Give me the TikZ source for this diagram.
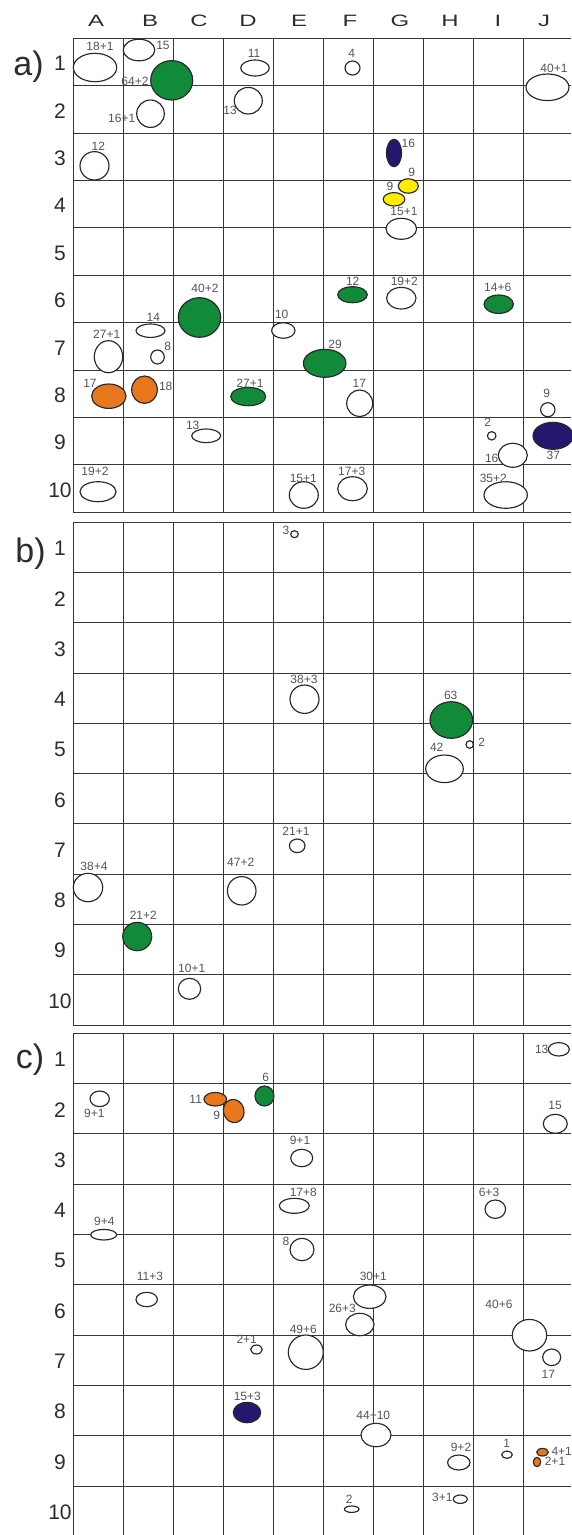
\documentclass[tikz,border=0pt]{standalone}
\usepackage{fontspec}
\setmainfont{Liberation Sans}
\newfontfamily\widefont[FakeStretch=1.45]{Liberation Sans}
\usetikzlibrary{shapes.geometric}
\definecolor{gfill}{RGB}{17,138,58}
\definecolor{ofill}{RGB}{232,120,30}
\definecolor{bfill}{RGB}{36,24,110}
\definecolor{yfill}{RGB}{255,238,0}
\definecolor{outl}{RGB}{40,40,40}
\definecolor{gridc}{RGB}{55,55,55}
\definecolor{lblc}{RGB}{85,85,85}
\definecolor{headc}{RGB}{45,45,45}
\newcommand\myblob[6]{\node[blob, fill=#6, minimum width=2*#4pt, minimum height=2*#5pt] (#1) at (#2,#3) {};}
\newcommand\mylbl[4]{\node[lbl] (#1) at (#2,#3) {#4};}
\begin{document}
\begin{tikzpicture}[x=1pt,y=-1pt,
  blob/.style={ellipse, draw=outl, line width=1.15pt, inner sep=0pt, outer sep=0pt},
  lbl/.style={font=\fontsize{12}{12}\selectfont, text=lblc, inner sep=0pt},
  colhead/.style={font=\widefont\fontsize{16.5}{16.5}\selectfont, text=headc, inner sep=0pt},
  rowhead/.style={font=\fontsize{21}{21}\selectfont, text=headc, inner sep=0pt},
  panel/.style={font=\fontsize{34}{34}\selectfont, text=headc, inner sep=0pt},
  gridline/.style={draw=gridc, line width=1pt}]
\useasboundingbox[fill=white] (0,0) rectangle (571,1535);
% grids
\foreach \i in {0,...,9} {
  \draw[gridline] (73+50*\i,38.3) -- (73+50*\i,512.3);
  \draw[gridline] (73+50*\i,522.3) -- (73+50*\i,1025);
  \draw[gridline] (73+50*\i,1033.3) -- (73+50*\i,1536);
}
\foreach \j in {0,...,10} {
  \draw[gridline] (73,38.3+47.4*\j) -- (571,38.3+47.4*\j);
  \draw[gridline] (73,522.3+50.27*\j) -- (571,522.3+50.27*\j);
  \draw[gridline] (73,1033.3+50.3*\j) -- (571,1033.3+50.3*\j);
}
% column letters
\foreach \c/\x in {A/96,B/150,C/199,D/248,E/299,F/350,G/400,H/450,I/498,J/544}
  \node[colhead] (col\c) at (\x,20.5) {\c};
% row numbers
\foreach \j in {1,...,10} {
  \node[rowhead] (ra\j) at (60,38.3+47.4*\j-23.7+1.5) {\j};
  \node[rowhead] (rb\j) at (60,522.3+50.27*\j-25.1+1) {\j};
  \node[rowhead] (rc\j) at (60,1033.3+50.3*\j-25.1+1) {\j};
}
% panel labels
\node[panel] (pa) at (28.5,66.5) {a)};
\node[panel] (pb) at (30.5,553.5) {b)};
\node[panel] (pc) at (30,1060) {c)};
% ---- panel a
\myblob{a1}{95}{67.5}{21.7}{14.2}{white}
\myblob{a2}{139}{50}{15.8}{10.8}{white}
\myblob{a3}{171.7}{80.3}{21}{19.7}{gfill}
\myblob{a4}{150.5}{113.7}{13.8}{13.7}{white}
\myblob{a5}{255}{68}{14.3}{8}{white}
\myblob{a6}{248.3}{100.7}{14}{13.3}{white}
\myblob{a7}{94.5}{165.8}{14.5}{14.2}{white}
\myblob{a8}{352.5}{68}{7.5}{7}{white}
\myblob{a9}{547.5}{87.3}{21.5}{13.3}{white}
\myblob{a10}{394}{153}{7.5}{13.7}{bfill}
\myblob{a11}{408.3}{186}{10}{7.2}{yfill}
\myblob{a12}{394}{199.3}{10.8}{6.7}{yfill}
\myblob{a13}{401.3}{228.8}{15.3}{10.5}{white}
\myblob{a14}{199.5}{317.5}{21.2}{19.8}{gfill}
\myblob{a15}{150.5}{330.7}{14.5}{6.7}{white}
\myblob{a16}{108.5}{356.7}{14.2}{16}{white}
\myblob{a17}{157.5}{357}{6.8}{7}{white}
\myblob{a18}{283.3}{330.5}{11.7}{7.8}{white}
\myblob{a19}{108.8}{396.2}{17.2}{12.2}{ofill}
\myblob{a20}{144.5}{389.7}{12.8}{13.7}{ofill}
\myblob{a21}{248.2}{396.5}{17.5}{9.2}{gfill}
\myblob{a22}{206.2}{435.8}{14.5}{6.8}{white}
\myblob{a23}{98}{491.7}{18}{10}{white}
\myblob{a24}{352.5}{294.7}{14.8}{8}{gfill}
\myblob{a25}{401.3}{298.2}{14.7}{10.8}{white}
\myblob{a26}{498.7}{304.2}{14.7}{9.2}{gfill}
\myblob{a27}{324.7}{363.3}{21.3}{14}{gfill}
\myblob{a28}{359.7}{403.3}{13}{13.3}{white}
\myblob{a29}{547.8}{409.7}{7.2}{7}{white}
\myblob{a30}{491.7}{435.8}{4.3}{4.2}{white}
\myblob{a31}{553}{435.8}{20}{13.5}{bfill}
\myblob{a32}{512.8}{455.3}{14.5}{12}{white}
\myblob{a33}{303.8}{495}{14.5}{13.3}{white}
\myblob{a34}{352.5}{488.7}{14.8}{12}{white}
\myblob{a35}{505.7}{495}{21.7}{13.3}{white}
\mylbl{a1l}{100}{46.7}{18+1}
\mylbl{a2l}{163}{45}{15}
\mylbl{a3l}{135}{81.7}{64+2}
\mylbl{a4l}{121.7}{118.3}{16+1}
\mylbl{a5l}{254}{53.3}{11}
\mylbl{a6l}{230}{110}{13}
\mylbl{a7l}{98.3}{146}{12}
\mylbl{a8l}{351.7}{53.3}{4}
\mylbl{a9l}{554}{68.3}{40+1}
\mylbl{a10l}{408.3}{143.3}{16}
\mylbl{a11l}{411.7}{172.7}{9}
\mylbl{a12l}{390}{186.7}{9}
\mylbl{a13l}{404}{211.7}{15+1}
\mylbl{a14l}{205}{288.3}{40+2}
\mylbl{a15l}{153.3}{317.7}{14}
\mylbl{a16l}{106.7}{334}{27+1}
\mylbl{a17l}{167.7}{346.7}{8}
\mylbl{a18l}{281.7}{314.3}{10}
\mylbl{a19l}{90}{383.3}{17}
\mylbl{a20l}{165.7}{386.7}{18}
\mylbl{a21l}{250}{383.3}{27+1}
\mylbl{a22l}{192.7}{425}{13}
\mylbl{a23l}{95}{471.7}{19+2}
\mylbl{a24l}{352.7}{281}{12}
\mylbl{a25l}{404.3}{281}{19+2}
\mylbl{a26l}{497.7}{287.7}{14+6}
\mylbl{a27l}{335}{344.3}{29}
\mylbl{a28l}{359.3}{383.3}{17}
\mylbl{a29l}{546.7}{393.3}{9}
\mylbl{a30l}{487.7}{422.3}{2}
\mylbl{a31l}{553.3}{455}{37}
\mylbl{a32l}{491.7}{458.3}{16}
\mylbl{a33l}{303.3}{478.3}{15+1}
\mylbl{a34l}{351.7}{471}{17+3}
\mylbl{a35l}{493.3}{478.3}{35+2}
% ---- panel b
\myblob{b1}{294.5}{534.2}{3.8}{3.5}{white}
\myblob{b2}{304.5}{699.2}{14.5}{14.2}{white}
\myblob{b3}{451.3}{720}{21.3}{18.3}{gfill}
\myblob{b4}{469.7}{744.5}{3.7}{3.8}{white}
\myblob{b5}{444.5}{768.8}{18.8}{13.8}{white}
\myblob{b6}{297.2}{845.8}{7.8}{6.8}{white}
\myblob{b7}{88}{887.5}{14.7}{14.2}{white}
\myblob{b8}{241.7}{890.8}{14.3}{14.2}{white}
\myblob{b9}{137.2}{936.5}{14.5}{14.2}{gfill}
\myblob{b10}{189.5}{988.8}{11.2}{10.5}{white}
\mylbl{b1l}{286}{530}{3}
\mylbl{b2l}{304}{679}{38+3}
\mylbl{b3l}{450.7}{695}{63}
\mylbl{b4l}{481.7}{742.3}{2}
\mylbl{b5l}{436.7}{747.3}{42}
\mylbl{b6l}{296}{831.7}{21+1}
\mylbl{b7l}{94}{866.7}{38+4}
\mylbl{b8l}{240.7}{862.7}{47+2}
\mylbl{b9l}{143.3}{915}{21+2}
\mylbl{b10l}{191.7}{968.3}{10+1}
% ---- panel c
\myblob{c1}{558.8}{1049.3}{10.5}{6.7}{white}
\myblob{c2}{99.7}{1098.8}{9.7}{7.8}{white}
\myblob{c3}{215.3}{1099.2}{11.3}{6.8}{ofill}
\node[blob, fill=ofill, minimum width=20.6pt, minimum height=23.4pt, rotate=15] (c4) at (233.7,1111) {};
\myblob{c5}{264.5}{1096}{9.5}{10}{gfill}
\myblob{c6}{555.3}{1123.8}{12}{9.5}{white}
\myblob{c7}{301.7}{1158}{11}{8.7}{white}
\myblob{c8}{294.3}{1205.8}{15}{7.5}{white}
\myblob{c9}{495.3}{1209.2}{10.3}{9.2}{white}
\myblob{c10}{103.7}{1234.7}{13}{5.3}{white}
\myblob{c11}{302}{1249.5}{12}{11.2}{white}
\myblob{c12}{146.7}{1299.5}{10.7}{7.2}{white}
\myblob{c13}{369.7}{1296.7}{16.3}{11.7}{white}
\myblob{c14}{359.8}{1324.5}{14.2}{11.2}{white}
\myblob{c15}{305.8}{1352.2}{17.5}{17.2}{white}
\myblob{c16}{529.5}{1335.2}{17.2}{15.8}{white}
\myblob{c17}{551.7}{1357.3}{9}{8.3}{white}
\myblob{c18}{256.5}{1349.5}{5.8}{4.5}{white}
\myblob{c19}{247}{1412.5}{13.7}{10.2}{bfill}
\myblob{c20}{376}{1435}{15}{11.7}{white}
\myblob{c21}{458.8}{1462.5}{11.2}{7.5}{white}
\myblob{c22}{507}{1454.7}{5.3}{3.7}{white}
\myblob{c23}{542.5}{1452.2}{5.8}{3.8}{ofill}
\myblob{c24}{537}{1462}{3.7}{4.7}{ofill}
\myblob{c25}{460.3}{1499.2}{7}{4.2}{white}
\myblob{c26}{351.7}{1509.2}{7.3}{3.2}{white}
\mylbl{c1l}{541.7}{1049.3}{13}
\mylbl{c2l}{94.3}{1113.3}{9+1}
\mylbl{c3l}{195.7}{1099}{11}
\mylbl{c4l}{216.7}{1115.7}{9}
\mylbl{c5l}{265.7}{1077.3}{6}
\mylbl{c6l}{555}{1105}{15}
\mylbl{c7l}{300}{1140}{9+1}
\mylbl{c8l}{303.3}{1192.7}{17+8}
\mylbl{c9l}{489}{1192.7}{6+3}
\mylbl{c10l}{104.3}{1221}{9+4}
\mylbl{c11l}{286}{1241.7}{8}
\mylbl{c12l}{150}{1276}{11+3}
\mylbl{c13l}{373.3}{1276}{30+1}
\mylbl{c14l}{342.3}{1308.3}{26+3}
\mylbl{c15l}{303.3}{1329}{49+6}
\mylbl{c16l}{499}{1304.3}{40+6}
\mylbl{c17l}{548.3}{1374.3}{17}
\mylbl{c18l}{246.7}{1339}{2+1}
\mylbl{c19l}{247.3}{1396}{15+3}
\mylbl{c20l}{373.3}{1415.7}{44+10}
\mylbl{c21l}{461}{1447.7}{9+2}
\mylbl{c22l}{506.7}{1443.3}{1}
\mylbl{c23l}{561.7}{1451.7}{4+1}
\mylbl{c24l}{555}{1461.7}{2+1}
\mylbl{c25l}{442.3}{1497.3}{3+1}
\mylbl{c26l}{349.3}{1499.3}{2}
\end{tikzpicture}
\end{document}
